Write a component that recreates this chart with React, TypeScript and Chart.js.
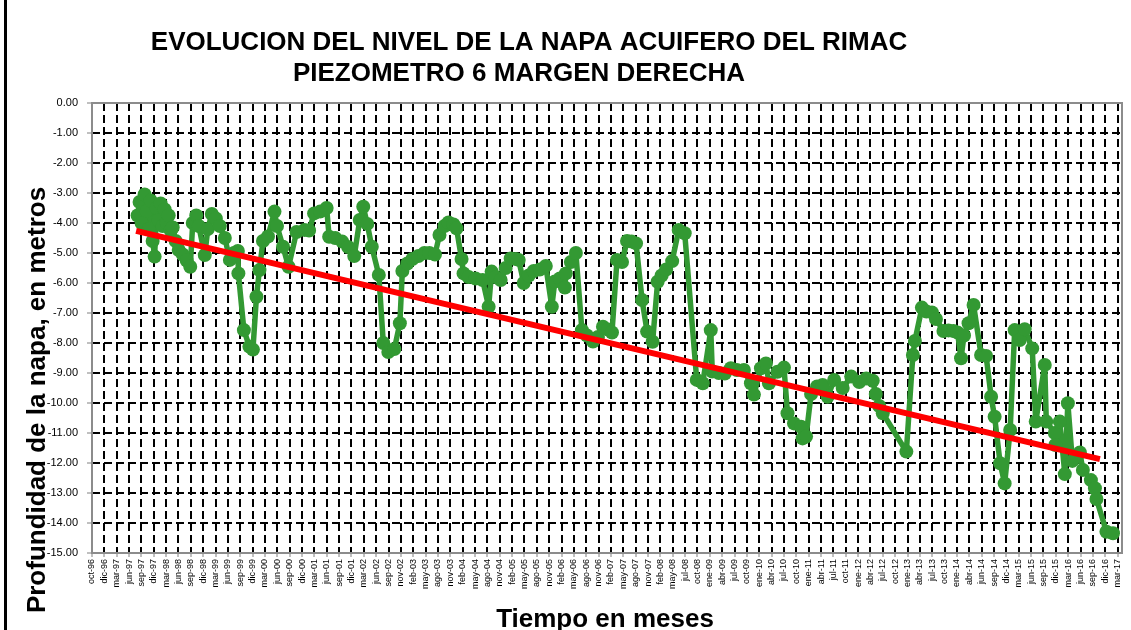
import React, { useEffect, useRef } from 'react';
import { Chart, registerables } from 'chart.js';

Chart.register(...registerables);

// ---------- DATA ----------
const xTickLabels = [
  'oct-96', 'dic-96', 'mar-97', 'jun-97', 'sep-97', 'dic-97', 'mar-98', 'jun-98', 'sep-98', 'dic-98',
  'mar-99', 'jun-99', 'sep-99', 'dic-99', 'mar-00', 'jun-00', 'sep-00', 'dic-00', 'mar-01', 'jun-01',
  'sep-01', 'dic-01', 'mar-02', 'jun-02', 'sep-02', 'nov-02', 'feb-03', 'may-03', 'ago-03', 'nov-03',
  'feb-04', 'may-04', 'ago-04', 'nov-04', 'feb-05', 'may-05', 'ago-05', 'nov-05', 'feb-06', 'may-06',
  'ago-06', 'nov-06', 'feb-07', 'may-07', 'ago-07', 'nov-07', 'feb-08', 'may-08', 'jul-08', 'oct-08',
  'ene-09', 'abr-09', 'jul-09', 'oct-09', 'ene-10', 'abr-10', 'jul-10', 'oct-10', 'ene-11', 'abr-11',
  'jul-11', 'oct-11', 'ene-12', 'abr-12', 'jul-12', 'oct-12', 'ene-13', 'abr-13', 'jul-13', 'oct-13',
  'ene-14', 'abr-14', 'jun-14', 'sep-14', 'dic-14', 'mar-15', 'jun-15', 'sep-15', 'dic-15', 'mar-16',
  'jun-16', 'sep-16', 'dic-16', 'mar-17',
];

// Date axis (decimal years): first tick 2-oct-1996, one tick every 90 days
const axisStartYear = 1996.751;
const tickStepDays = 90;
const axisEndYear = 2017.29;

const yTickValues = [0, -1, -2, -3, -4, -5, -6, -7, -8, -9, -10, -11, -12, -13, -14, -15];

// Nivel de la napa (m) vs fecha (decimal years)
const fechas = [
  1997.66, 1997.70, 1997.74, 1997.80, 1997.84, 1997.88, 1997.92, 1997.96, 1998.00, 1998.04,
  1998.08, 1998.12, 1998.16, 1998.20, 1998.24, 1998.28, 1998.32, 1998.36, 1998.42, 1998.48,
  1998.56, 1998.64, 1998.71, 1998.76, 1998.83, 1998.88, 1999.00, 1999.06, 1999.14, 1999.22,
  1999.30, 1999.40, 1999.50, 1999.58, 1999.66, 1999.67, 1999.78, 1999.89, 1999.96, 2000.03,
  2000.09, 2000.16, 2000.26, 2000.39, 2000.44, 2000.56, 2000.67, 2000.83, 2000.99, 2001.08,
  2001.18, 2001.30, 2001.43, 2001.48, 2001.60, 2001.74, 2001.86, 2001.98, 2002.09, 2002.16,
  2002.24, 2002.33, 2002.47, 2002.56, 2002.66, 2002.78, 2002.89, 2002.94, 2003.04, 2003.14,
  2003.26, 2003.38, 2003.48, 2003.59, 2003.68, 2003.78, 2003.86, 2003.96, 2004.02, 2004.12,
  2004.16, 2004.26, 2004.40, 2004.54, 2004.66, 2004.72, 2004.80, 2004.90, 2005.00, 2005.10,
  2005.20, 2005.26, 2005.36, 2005.46, 2005.56, 2005.68, 2005.80, 2005.92, 2005.98, 2006.08,
  2006.18, 2006.20, 2006.30, 2006.40, 2006.52, 2006.62, 2006.74, 2006.84, 2006.94, 2007.04,
  2007.12, 2007.22, 2007.32, 2007.42, 2007.51, 2007.60, 2007.72, 2007.82, 2007.93, 2008.03,
  2008.11, 2008.20, 2008.32, 2008.45, 2008.57, 2008.81, 2008.93, 2009.09, 2009.12, 2009.25,
  2009.37, 2009.49, 2009.61, 2009.75, 2009.89, 2009.95, 2010.09, 2010.19, 2010.25, 2010.42,
  2010.55, 2010.62, 2010.75, 2010.89, 2010.92, 2010.99, 2011.09, 2011.21, 2011.32, 2011.42,
  2011.55, 2011.72, 2011.89, 2012.05, 2012.19, 2012.32, 2012.38, 2012.45, 2012.52, 2012.99,
  2013.12, 2013.16, 2013.30, 2013.39, 2013.50, 2013.58, 2013.73, 2013.83, 2013.93, 2014.01,
  2014.08, 2014.14, 2014.23, 2014.33, 2014.48, 2014.58, 2014.68, 2014.75, 2014.86, 2014.95,
  2015.06, 2015.15, 2015.25, 2015.35, 2015.50, 2015.57, 2015.75, 2015.78, 2015.95, 2015.96,
  2016.05, 2016.15, 2016.21, 2016.30, 2016.45, 2016.51, 2016.67, 2016.75, 2016.78, 2016.98,
  2017.11,
];

const niveles = [
  -3.75, -3.30, -4.00, -3.05, -3.60, -4.20, -3.25, -4.60, -5.12, -3.50,
  -3.90, -3.35, -4.10, -3.55, -4.00, -3.75, -4.25, -4.15, -4.60, -4.90,
  -5.05, -5.25, -5.46, -4.00, -3.75, -4.10, -5.07, -4.20, -3.70, -3.85,
  -4.10, -4.50, -5.23, -5.00, -4.93, -5.68, -7.57, -8.12, -8.22, -6.46,
  -5.57, -4.60, -4.45, -3.62, -4.10, -4.79, -5.46, -4.30, -4.23, -4.25,
  -3.68, -3.62, -3.50, -4.46, -4.50, -4.62, -4.80, -5.10, -3.90, -3.46,
  -4.03, -4.79, -5.73, -8.00, -8.30, -8.20, -7.34, -5.60, -5.35, -5.20,
  -5.10, -5.00, -5.00, -5.05, -4.40, -4.10, -3.98, -4.05, -4.18, -5.20,
  -5.68, -5.80, -5.85, -5.90, -6.79, -5.62, -5.80, -5.90, -5.50, -5.18,
  -5.20, -5.23, -6.00, -5.75, -5.60, -5.55, -5.43, -6.79, -5.95, -5.85,
  -6.15, -5.68, -5.30, -5.00, -7.57, -7.75, -7.95, -7.80, -7.46, -7.55,
  -7.65, -5.23, -5.30, -4.60, -4.62, -4.68, -6.57, -7.62, -7.96, -5.96,
  -5.75, -5.55, -5.27, -4.23, -4.34, -9.23, -9.34, -7.57, -8.95, -9.00,
  -9.02, -8.84, -8.90, -8.90, -9.34, -9.72, -8.84, -8.68, -9.34, -8.96,
  -8.82, -10.34, -10.68, -10.79, -11.18, -11.12, -9.70, -9.45, -9.40, -9.79,
  -9.23, -9.50, -9.12, -9.30, -9.18, -9.26, -9.70, -10.10, -10.34, -11.62,
  -8.40, -7.93, -6.82, -6.95, -6.98, -7.20, -7.60, -7.58, -7.60, -7.65,
  -8.51, -7.75, -7.34, -6.73, -8.40, -8.43, -9.79, -10.46, -12.01, -12.68,
  -10.90, -7.57, -7.90, -7.54, -8.18, -10.62, -8.73, -10.62, -11.00, -11.40,
  -10.62, -12.37, -10.01, -11.93, -11.65, -12.23, -12.57, -12.84, -13.20, -14.29,
  -14.34,
];

// Linear trend line (start / end)
const tendenciaFechas = [1997.63, 2016.85];
const tendenciaNiveles = [-4.26, -11.87];

const titleLines = [
  'EVOLUCION DEL NIVEL DE LA NAPA ACUIFERO DEL RIMAC',
  'PIEZOMETRO 6 MARGEN DERECHA',
];
const yTitle = 'Profundidad de la napa, en metros';
const xTitle = 'Tiempo en meses';

// ---------- COMPONENT ----------
const FONT = "'Liberation Sans', Arial, Helvetica, sans-serif";

export default function App() {
  const canvasRef = useRef<HTMLCanvasElement | null>(null);

  useEffect(() => {
    document.body.style.margin = '0';
    const canvas = canvasRef.current;
    if (!canvas) return;
    Chart.defaults.font.family = FONT;

    const tickStepYears = tickStepDays / 365.25;

    const decorPlugin = {
      id: 'decor',
      beforeDraw(chart: any) {
        const { ctx, width, height } = chart;
        ctx.save();
        ctx.fillStyle = '#ffffff';
        ctx.fillRect(0, 0, width, height);
        ctx.restore();
      },
      beforeDatasetsDraw(chart: any) {
        const { ctx, chartArea } = chart;
        ctx.save();
        ctx.strokeStyle = '#8c8c8c';
        ctx.lineWidth = 2;
        ctx.setLineDash([]);
        ctx.strokeRect(chartArea.left, chartArea.top, chartArea.right - chartArea.left, chartArea.bottom - chartArea.top);
        ctx.restore();
      },
      afterDraw(chart: any) {
        const { ctx, chartArea, height } = chart;
        ctx.save();
        // outer chart border (left)
        ctx.fillStyle = '#000000';
        ctx.fillRect(4, 0, 3, height);

        ctx.fillStyle = '#000000';
        ctx.font = `bold 26px ${FONT}`;
        ctx.textAlign = 'center';
        ctx.textBaseline = 'alphabetic';
        ctx.fillText(titleLines[0], 529, 50);
        ctx.fillText(titleLines[1], 519, 81);

        // x title
        ctx.fillText(xTitle, (chartArea.left + chartArea.right) / 2 - 2, 627);

        // y title
        ctx.translate(45, 400);
        ctx.rotate(-Math.PI / 2);
        ctx.fillText(yTitle, 0, 0);
        ctx.restore();
      },
    };

    const chart = new Chart(canvas, {
      type: 'line',
      data: {
        datasets: [
          {
            label: 'Tendencia',
            data: tendenciaFechas.map((f, i) => ({ x: f, y: tendenciaNiveles[i] })),
            borderColor: '#ff0000',
            backgroundColor: '#ff0000',
            borderWidth: 6,
            borderCapStyle: 'butt',
            pointRadius: 0,
            tension: 0,
            order: 0,
          },
          {
            label: 'Nivel',
            data: fechas.map((f, i) => ({ x: f, y: niveles[i] })),
            borderColor: '#339933',
            backgroundColor: '#339933',
            borderWidth: 5.5,
            borderJoinStyle: 'round',
            borderCapStyle: 'round',
            pointRadius: 7,
            pointBorderWidth: 0,
            pointBackgroundColor: '#339933',
            tension: 0,
            order: 1,
          },
        ],
      },
      options: {
        responsive: false,
        animation: false,
        events: [],
        layout: { padding: { left: 0, top: 103, right: 9, bottom: 0 } },
        plugins: {
          legend: { display: false },
          title: { display: false },
          tooltip: { enabled: false },
        },
        scales: {
          x: {
            type: 'linear',
            min: axisStartYear,
            max: axisEndYear,
            afterBuildTicks: (scale: any) => {
              scale.ticks = xTickLabels.map((_, i) => ({ value: axisStartYear + i * tickStepYears }));
            },
            afterFit: (scale: any) => {
              scale.height = 77;
            },
            ticks: {
              autoSkip: false,
              maxRotation: 90,
              minRotation: 90,
              padding: 2,
              color: '#000000',
              font: { size: 9, family: FONT },
              callback: (_v: any, i: number) => xTickLabels[i],
            },
            grid: {
              color: '#000000',
              lineWidth: 2,
              drawTicks: true,
              tickLength: 4,
              tickColor: '#808080',
              tickWidth: 1,
            },
            border: { display: false, dash: [8, 4] },
          },
          y: {
            type: 'linear',
            min: -15,
            max: 0,
            afterBuildTicks: (scale: any) => {
              scale.ticks = yTickValues.map((v) => ({ value: v }));
            },
            afterFit: (scale: any) => {
              scale.width = 92;
            },
            ticks: {
              padding: 9,
              color: '#000000',
              font: { size: 11, family: FONT },
              callback: (v: any) => Number(v).toFixed(2),
            },
            grid: {
              color: '#000000',
              lineWidth: 2,
              drawTicks: true,
              tickLength: 5,
              tickColor: '#808080',
              tickWidth: 1,
            },
            border: { display: false, dash: [8, 4] },
          },
        },
      },
      plugins: [decorPlugin],
    } as any);

    return () => chart.destroy();
  }, []);

  return (
    <div style={{ position: 'relative', width: 1131, height: 630 }}>
      <canvas ref={canvasRef} width={1131} height={630} style={{ display: 'block', width: 1131, height: 630 }} />
    </div>
  );
}
